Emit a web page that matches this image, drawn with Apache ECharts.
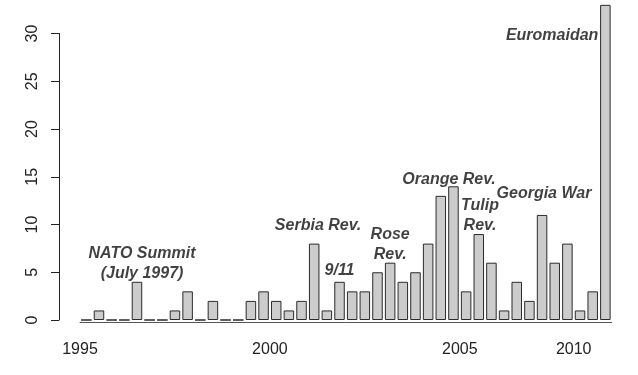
<!DOCTYPE html>
<html>
<head>
<meta charset="utf-8">
<script src="https://cdn.jsdelivr.net/npm/echarts@6/dist/echarts.min.js"></script>
<style>
  html, body { margin: 0; padding: 0; background: #fff; }
  #chart { width: 638px; height: 375px; }
</style>
</head>
<body>
<div id="chart"></div>
<script>
// counts per period (42 periods)
var counts = [0, 1, 0, 0, 4, 0, 0, 1, 3, 0, 2, 0, 0, 2, 3,
              2, 1, 2, 8, 1, 4, 3, 3, 5, 6, 4, 5, 8, 13, 14,
              3, 9, 6, 1, 4, 2, 11, 6, 8,
              1, 3, 33];
var periods = counts.map(function (v, i) { return 'P' + (i + 1); });

// x axis ticks sit on the boundary before these periods
var tickAt = [0, 15, 30, 39];
var tickLabels = ['1995', '2000', '2005', '2010'];

// event annotations (x in period index, y in count units)
var annoText = ['NATO Summit\n(July 1997)', 'Serbia Rev.', '9/11', 'Rose\nRev.',
                'Orange Rev.', 'Tulip\nRev.', 'Georgia War', 'Euromaidan'];
var annoX = [4.4, 18.3, 20.0, 24.0, 28.65, 31.1, 36.15, 41];
var annoY = [5.9, 9.85, 5.2, 7.9, 14.75, 10.95, 13.2, 29.8];

var chart = echarts.init(document.getElementById('chart'));
var font = 'Liberation Sans, Arial, sans-serif';
var band = (638 - 80 - 26.3) / counts.length;

var annoData = annoText.map(function (t, i) {
    var item = { value: [annoX[i], annoY[i]], name: t };
    if (t === 'Euromaidan') {
        item.label = { position: 'left', distance: 7 };
    }
    return item;
});

var option = {
    animation: false,
    grid: { left: 80, right: 26.3, top: 33.5, bottom: 55 },
    xAxis: [{
        type: 'category',
        data: periods,
        offset: 2,
        axisLine: { onZero: false, lineStyle: { color: '#555', width: 1 } },
        axisTick: {
            length: 8,
            lineStyle: { color: '#555' },
            interval: function (idx) { return tickAt.indexOf(idx) >= 0; }
        },
        axisLabel: {
            interval: function (idx) { return tickAt.indexOf(idx) >= 0; },
            formatter: function (v, idx) {
                var k = tickAt.indexOf(idx);
                return k >= 0 ? tickLabels[k] : '';
            },
            padding: [0, band, 0, 0],
            margin: 20,
            fontFamily: font,
            fontSize: 16,
            color: '#222'
        },
        splitLine: { show: false }
    }, {
        type: 'value',
        min: -0.5,
        max: counts.length - 0.5,
        show: false
    }],
    yAxis: {
        type: 'value',
        min: 0,
        max: 30,
        interval: 5,
        offset: 21,
        axisLine: { show: true, onZero: false, lineStyle: { color: '#222' } },
        axisTick: { show: true, length: 8, lineStyle: { color: '#222' } },
        axisLabel: {
            rotate: 90,
            margin: 18,
            fontFamily: font,
            fontSize: 16,
            color: '#222'
        },
        splitLine: { show: false }
    },
    series: [{
        type: 'bar',
        data: counts,
        clip: false,
        barCategoryGap: '17%',
        itemStyle: { color: '#cccccc', borderColor: '#2b2b2b', borderWidth: 1 }
    }, {
        type: 'scatter',
        xAxisIndex: 1,
        data: annoData,
        symbolSize: 0,
        clip: false,
        label: {
            show: true,
            position: 'inside',
            formatter: function (p) { return p.name; },
            fontFamily: font,
            fontSize: 16,
            fontWeight: 'bold',
            fontStyle: 'italic',
            lineHeight: 20,
            color: '#111'
        }
    }]
};

chart.setOption(option, true);
</script>
</body>
</html>
